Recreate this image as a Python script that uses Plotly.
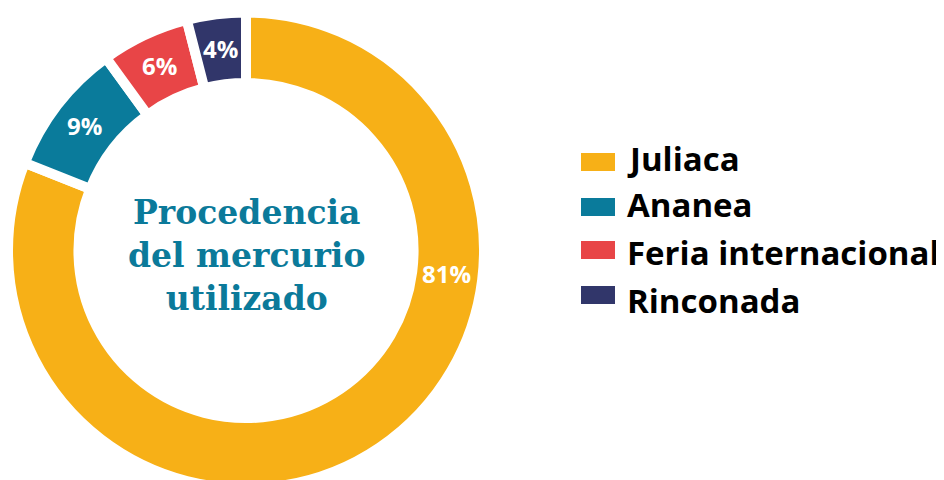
import math
import plotly.graph_objects as go

labels = ["Juliaca", "Ananea", "Feria internacional", "Rinconada"]
values = [81, 9, 6, 4]
colors = ["#F7B017", "#0A7B9B", "#E84547", "#31366A"]
center_title = ["Procedencia", "del mercurio", "utilizado"]

# The page body adds an 8px offset; figure is sized so its visible part fills 944x480
OFF = 8
W, H = 944 - OFF, 490


def fx(px):
    return (px - OFF) / W


def fy(py):
    return 1 - (py - OFF) / H


# donut geometry in page pixels
CX, CY, R = 246, 250.5, 238
R_LABEL = 204

fig = go.Figure()

fig.add_trace(go.Pie(
    labels=labels, values=values, sort=False, direction="clockwise", rotation=0,
    hole=0.704,
    marker=dict(colors=colors, line=dict(color="white", width=10)),
    textinfo="none",
    domain=dict(x=[fx(CX - R), fx(CX + R)], y=[fy(CY + R), fy(CY - R)]),
    showlegend=False, hoverinfo="skip",
))

label_font = dict(family="Open Sans", size=24, color="white", weight=700)
total = sum(values)
cum = 0
for i, v in enumerate(values):
    mid = 2 * math.pi * (cum + v / 2) / total
    cum += v
    if i == 0:
        # the large slice's label sits on the right side of the ring
        x, y = 446.5, 273
    else:
        x = CX + R_LABEL * math.sin(mid)
        y = CY - R_LABEL * math.cos(mid)
    fig.add_annotation(x=fx(x), y=fy(y), xref="paper", yref="paper",
                       xanchor="center", yanchor="middle",
                       text=f"{v}%", showarrow=False, font=label_font)

# center title
fig.add_annotation(x=fx(246), y=fy(256), xref="paper", yref="paper",
                   xanchor="center", yanchor="middle",
                   text="<br>".join(center_title), showarrow=False,
                   font=dict(family="DejaVu Serif", size=33, color="#0B7A9A", weight=700))

# legend
square_y = [162, 207, 250, 295]
text_y = [158.5, 204.5, 252, 300]
for lab, col, ys, yt in zip(labels, colors, square_y, text_y):
    fig.add_shape(type="rect", xref="paper", yref="paper",
                  x0=fx(581), x1=fx(615), y0=fy(ys + 9), y1=fy(ys - 9),
                  fillcolor=col, line=dict(width=0))
    fig.add_annotation(x=fx(625), y=fy(yt), xref="paper", yref="paper",
                       xanchor="left", yanchor="middle", text=lab, showarrow=False,
                       font=dict(family="Open Sans", size=33, color="#000000", weight=700))

fig.update_layout(width=W, height=H, margin=dict(l=0, r=0, t=0, b=0),
                  paper_bgcolor="white", plot_bgcolor="white")

fig.write_html("out.html")
